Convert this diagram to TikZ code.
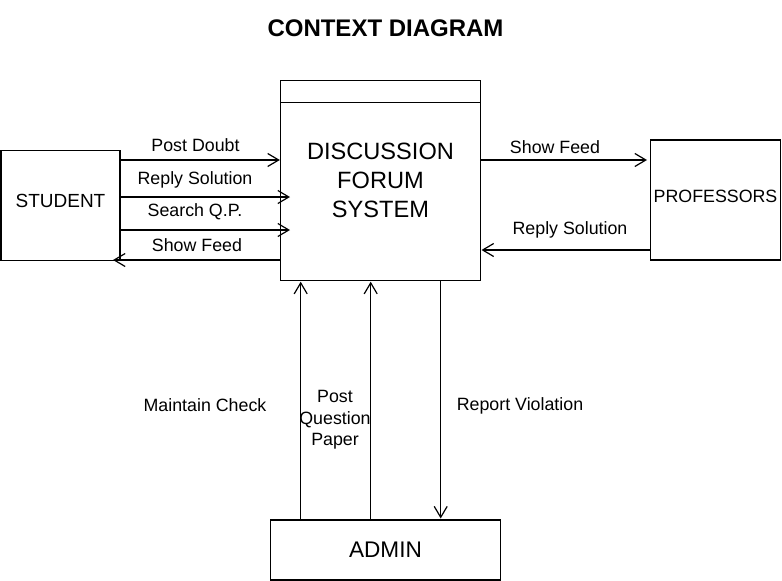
\documentclass[tikz,border=0pt]{standalone}
\usepackage{fontspec}
\setmainfont{Liberation Sans}
\usetikzlibrary{arrows.meta,positioning}

\tikzset{
  entity/.style={draw, line width=1.3pt, rectangle, inner sep=0pt, align=center},
  flow/.style={line width=1.3pt, -{Straight Barb[length=11pt,width=13pt,line width=1.2pt]}},
  lbl/.style={inner sep=0pt, align=center, font=\fontsize{17.8}{21.5}\selectfont}
}

\begin{document}
\begin{tikzpicture}[x=1pt,y=-1pt]
        \useasboundingbox (0,0) rectangle (782,581);
        % Title
        \node[font=\fontsize{24}{28}\selectfont\bfseries] (title) at (385.5,28) {CONTEXT DIAGRAM};
        % Process and external entities
        \node[entity, minimum width=200pt, minimum height=200pt,
              font=\fontsize{23.6}{28.7}\selectfont] (sys) at (380.5,180.5) {DISCUSSION\\FORUM\\SYSTEM};
        \draw[line width=1.3pt] ([yshift=-22.6pt]sys.north west) -- ([yshift=-22.6pt]sys.north east);
        \node[entity, minimum width=119pt, minimum height=109.5pt, text depth=10pt,
              font=\fontsize{19}{23}\selectfont] (stu) at (60.5,205.5) {STUDENT};
        \node[entity, minimum width=130pt, minimum height=120pt, text depth=6.6pt,
              font=\fontsize{17.8}{21}\selectfont] (prof) at (715.5,200) {PROFESSORS};
        \node[entity, minimum width=230pt, minimum height=60pt,
              font=\fontsize{22.6}{27}\selectfont] (admin) at (385.5,550) {ADMIN};
        % Free ends of the flows
        \coordinate (rsEnd) at (290,197);
        \coordinate (sqEnd) at (290,230);
        \coordinate (sfEnd) at (113,260);
        \coordinate (sfrEnd) at (647,160);
        \coordinate (rsrEnd) at (481.5,250);
        \coordinate (mcEnd) at (300.7,281.7);
        \coordinate (pqEnd) at (370.7,281.7);
        \coordinate (rvEnd) at (440.7,518.5);
        % Student flows
        \draw[flow] (stu.east |- 0,160) -- (sys.west |- 0,160);
        \draw[flow] (stu.east |- rsEnd) -- (rsEnd);
        \draw[flow] (stu.east |- sqEnd) -- (sqEnd);
        \draw[flow] (sys.west |- sfEnd) -- (sfEnd);
        % Professor flows
        \draw[flow] (sys.east |- sfrEnd) -- (sfrEnd);
        \draw[flow] (prof.west |- rsrEnd) -- (rsrEnd);
        % Admin flows
        \draw[flow] (admin.north -| mcEnd) -- (mcEnd);
        \draw[flow] (admin.north -| pqEnd) -- (pqEnd);
        \draw[flow] (sys.south -| rvEnd) -- (rvEnd);
        % Flow labels
        \node[lbl] (postDoubt) at (195.5,145) {Post Doubt};
        \node[lbl] (replySol) at (195,180) {Reply Solution};
        \node[lbl] (searchQP) at (195,211.7) {Search Q.P.};
        \node[lbl] (showFeed) at (197,245) {Show Feed};
        \node[lbl] (showFeedR) at (555,146.7) {Show Feed};
        \node[lbl] (replySolR) at (570,230) {Reply Solution};
        \node[lbl] (maintain) at (205,405) {Maintain Check};
        \node[lbl] (postQP) at (335,420) {Post\\Question\\Paper};
        \node[lbl] (report) at (520,406) {Report Violation};
\end{tikzpicture}
\end{document}
